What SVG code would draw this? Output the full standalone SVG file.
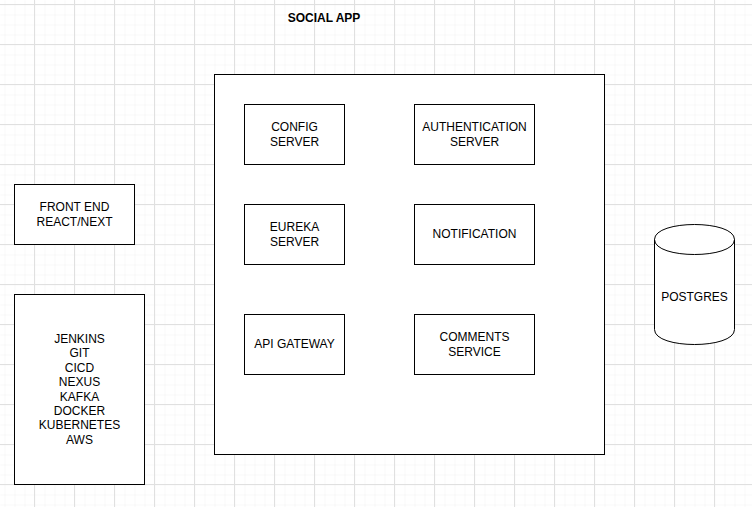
<svg xmlns="http://www.w3.org/2000/svg" width="752" height="507" viewBox="0 0 752 507">
<defs>
<pattern id="minor" x="4" y="4" width="10" height="10" patternUnits="userSpaceOnUse">
<path d="M0 0H10M0 0V10" fill="none" stroke="#f2f2f2" stroke-width="1"/>
</pattern>
<pattern id="major" x="-6" y="4" width="40" height="40" patternUnits="userSpaceOnUse">
<path d="M0 0.5H40M0.5 0V40" fill="none" stroke="#e0e0e0" stroke-width="1"/>
</pattern>
</defs>
<style>
.box{fill:#ffffff;stroke:#000000;stroke-width:1}
.t{font-family:"Liberation Sans",Arial,Helvetica,sans-serif;font-size:12px;fill:#000000;text-anchor:middle}
.b{font-weight:bold}
</style>
<rect width="752" height="507" fill="#ffffff"/>
<g transform="translate(0.5,0.5)">
<rect width="752" height="507" fill="url(#minor)"/>
</g>
<rect width="752" height="507" fill="url(#major)"/>
<g id="title"><text class="t b" x="324" y="22">SOCIAL APP</text></g>
<g id="container"><rect class="box" x="214.5" y="74.5" width="390" height="380"/></g>
<g id="config-server"><rect class="box" x="244.5" y="104.5" width="100" height="60"/>
<text class="t" x="294.5" y="131">CONFIG</text><text class="t" x="294.5" y="145.5">SERVER</text></g>
<g id="auth-server"><rect class="box" x="414.5" y="104.5" width="120" height="60"/>
<text class="t" x="474.5" y="131">AUTHENTICATION</text><text class="t" x="474.5" y="145.5">SERVER</text></g>
<g id="eureka-server"><rect class="box" x="244.5" y="204.5" width="100" height="60"/>
<text class="t" x="294.5" y="231">EUREKA</text><text class="t" x="294.5" y="245.5">SERVER</text></g>
<g id="notification"><rect class="box" x="414.5" y="204.5" width="120" height="60"/>
<text class="t" x="474.5" y="237.5">NOTIFICATION</text></g>
<g id="api-gateway"><rect class="box" x="244.5" y="314.5" width="100" height="60"/>
<text class="t" x="294.5" y="347.5">API GATEWAY</text></g>
<g id="comments-service"><rect class="box" x="414.5" y="314.5" width="120" height="60"/>
<text class="t" x="474.5" y="341">COMMENTS</text><text class="t" x="474.5" y="355.5">SERVICE</text></g>
<g id="front-end"><rect class="box" x="14.5" y="184.5" width="120" height="60"/>
<text class="t" x="74.5" y="211">FRONT END</text><text class="t" x="74.5" y="225.5">REACT/NEXT</text></g>
<g id="tools"><rect class="box" x="14.5" y="294.5" width="130" height="190"/>
<text class="t" x="79.5" y="343">JENKINS</text>
<text class="t" x="79.5" y="357.4">GIT</text>
<text class="t" x="79.5" y="371.8">CICD</text>
<text class="t" x="79.5" y="386.2">NEXUS</text>
<text class="t" x="79.5" y="400.6">KAFKA</text>
<text class="t" x="79.5" y="415">DOCKER</text>
<text class="t" x="79.5" y="429.4">KUBERNETES</text>
<text class="t" x="79.5" y="443.8">AWS</text></g>
<g id="postgres">
<path class="box" d="M654.5 239.5C654.5 219.5 734.5 219.5 734.5 239.5V329.5C734.5 349.5 654.5 349.5 654.5 329.5Z"/>
<path d="M654.5 239.5C654.5 259.5 734.5 259.5 734.5 239.5" fill="none" stroke="#000" stroke-width="1"/>
<text class="t" x="694.5" y="301">POSTGRES</text></g>
<g id="connectors"></g>
</svg>
